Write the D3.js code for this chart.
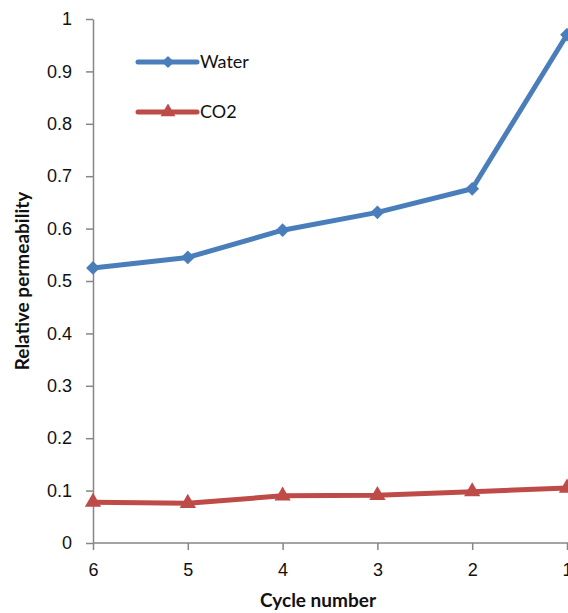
<!DOCTYPE html>
<html>
<head>
<meta charset="utf-8">
<script src="https://cdn.jsdelivr.net/npm/d3@7"></script>
<style>
	body { margin: 0; background: #fff; }
	svg { display: block; font-family: Lato, "Open Sans", sans-serif; }
	.tick text { fill: #111; font-size: 18px; }
	.domain, .tick line { stroke: #868686; stroke-width: 1.5; }
</style>
</head>
<body>
<svg id="svg_plot" width="568" height="613"></svg>
<script>
const cycles = ["6", "5", "4", "3", "2", "1"];
const water = [0.525, 0.545, 0.597, 0.631, 0.676, 0.970];
const co2 = [0.078, 0.076, 0.090, 0.091, 0.098, 0.105];
const y_ticks = [0, 0.1, 0.2, 0.3, 0.4, 0.5, 0.6, 0.7, 0.8, 0.9, 1];

const blue = "#4a7ebb";
const red = "#be4b48";

let svg = d3.select("#svg_plot");

let xscale = d3.scalePoint().domain(cycles).range([93, 567]).padding(0);
let yscale = d3.scaleLinear().domain([0, 1]).range([543, 19]);

svg.append("g")
   .attr("transform", "translate(0,543)")
   .call(d3.axisBottom(xscale).tickSize(7).tickSizeOuter(0).tickPadding(13))
   .call(g => g.select(".domain").attr("d", "M93,0H568"));

svg.append("g")
   .attr("transform", "translate(93,0)")
   .call(d3.axisLeft(yscale).tickValues(y_ticks).tickFormat(d => d3.format("")(+d.toFixed(1))).tickSize(7).tickSizeOuter(0).tickPadding(14));

let line = d3.line()
	.x((d, i) => xscale(cycles[i]))
	.y(d => yscale(d));

// excel style diamond: a square turned 45 degrees
function marker(symbol, size) {
	if (symbol == "diamond") {
		return d3.symbol().type(d3.symbolSquare).size(size)();
	}
	return d3.symbol().type(d3.symbolTriangle).size(size)();
}

function draw_series(values, color, symbol, size) {
	svg.append("path")
	   .datum(values)
	   .attr("d", line)
	   .attr("fill", "none")
	   .attr("stroke", color)
	   .attr("stroke-width", 5)
	   .attr("stroke-linejoin", "round");

	svg.selectAll(null)
	   .data(values)
	   .join("path")
	   .attr("d", marker(symbol, size))
	   .attr("transform", (d, i) => "translate(" + xscale(cycles[i]) + "," + yscale(d) + ")" + (symbol == "diamond" ? " rotate(45)" : ""))
	   .attr("fill", color);
}

draw_series(water, blue, "diamond", 95);
draw_series(co2, red, "triangle", 115);

// legend
let legend = [{name: "Water", color: blue, symbol: "diamond", size: 75, y: 62},
              {name: "CO2", color: red, symbol: "triangle", size: 95, y: 112}];

let lg = svg.selectAll(".legend").data(legend).join("g")
	.attr("class", "legend")
	.attr("transform", d => "translate(138," + d.y + ")");

lg.append("line").attr("x1", 0).attr("x2", 59)
  .attr("stroke", d => d.color).attr("stroke-width", 5).attr("stroke-linecap", "round");
lg.append("path").attr("d", d => marker(d.symbol, d.size))
  .attr("transform", d => "translate(30,0)" + (d.symbol == "diamond" ? " rotate(45)" : ""))
  .attr("fill", d => d.color);
lg.append("text").attr("x", 62).attr("y", 6).attr("fill", "#111")
  .style("font-size", "18px").text(d => d.name);

svg.append("text")
   .attr("x", 318).attr("y", 607)
   .attr("text-anchor", "middle")
   .style("font-size", "19px").style("font-weight", "bold").attr("fill", "#111")
   .text("Cycle number");

svg.append("text")
   .attr("transform", "translate(29,281) rotate(-90)")
   .attr("text-anchor", "middle")
   .style("font-size", "19px").style("font-weight", "bold").attr("fill", "#111")
   .text("Relative permeability");
</script>
</body>
</html>
